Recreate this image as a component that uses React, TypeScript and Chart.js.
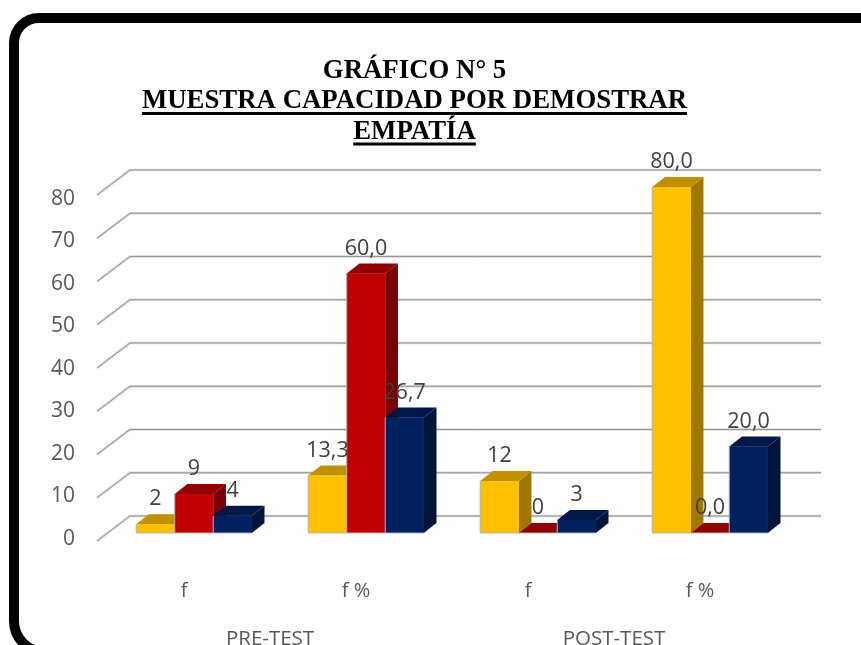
import React, { useEffect, useRef } from "react";
import { Chart, registerables } from "chart.js";

Chart.register(...registerables);

const categories = ["f", "f %", "f", "f %"];
const phases = ["PRE-TEST", "POST-TEST"];
const yTickValues = [0, 10, 20, 30, 40, 50, 60, 70, 80];
const titleLines = ["GRÁFICO N° 5", "MUESTRA CAPACIDAD POR DEMOSTRAR", "EMPATÍA"];
const serieYellow = [2, 13.3, 12, 80];
const serieRed = [9, 60, 0, 0];
const serieBlue = [4, 26.7, 3, 20];

const faces = [
  { front: "#FFC000", top: "#BF9000", side: "#A07800" },
  { front: "#C00000", top: "#900000", side: "#780000" },
  { front: "#002060", top: "#001848", side: "#00143C" },
];

const DEPTH_X = 12.7;
const DEPTH_Y = 10;
const TEXT_FONT = '"Open Sans", sans-serif';

const poly = (ctx: any, pts: number[][], fill: string) => {
  ctx.beginPath();
  pts.forEach((p, i) => (i ? ctx.lineTo(p[0], p[1]) : ctx.moveTo(p[0], p[1])));
  ctx.closePath();
  ctx.fillStyle = fill;
  ctx.fill();
};

const wallPlugin = {
  id: "wall",
  beforeDatasetsDraw(chart: any) {
    const { ctx, chartArea, scales } = chart;
    const frontX = chartArea.left - 11;
    const backX = chartArea.left + 22;
    const endX = chartArea.right + 25;
    ctx.save();
    yTickValues.forEach((v) => {
      const py = scales.y.getPixelForValue(v);
      const path = () => {
        ctx.beginPath();
        ctx.moveTo(frontX, py + 8);
        ctx.lineTo(backX, py - 17);
        ctx.lineTo(endX, py - 17);
        ctx.stroke();
      };
      ctx.lineWidth = 2.6;
      ctx.strokeStyle = "#d6d6d6";
      path();
      ctx.lineWidth = 1;
      ctx.strokeStyle = "#969696";
      path();
    });
    ctx.restore();
  },
};

const boxesPlugin = {
  id: "boxes",
  afterDatasetsDraw(chart: any) {
    const { ctx } = chart;
    ctx.save();
    categories.forEach((_, i) => {
      faces.forEach((f, d) => {
        const el = chart.getDatasetMeta(d).data[i];
        const { x, y, base, width } = el.getProps(["x", "y", "base", "width"], true);
        const l = x - width / 2;
        const r = x + width / 2;
        poly(ctx, [[r, y], [r + DEPTH_X, y - DEPTH_Y], [r + DEPTH_X, base - DEPTH_Y], [r, base]], f.side);
        poly(ctx, [[l, y], [l + DEPTH_X, y - DEPTH_Y], [r + DEPTH_X, y - DEPTH_Y], [r, y]], f.top);
        if (base - y > 0) poly(ctx, [[l, y], [r, y], [r, base], [l, base]], f.front);
        ctx.strokeStyle = "#b4b4b4";
        ctx.lineWidth = 1;
        ctx.beginPath();
        ctx.moveTo(l, y);
        ctx.lineTo(l, base);
        ctx.lineTo(r, base);
        ctx.stroke();
      });
    });
    ctx.font = `21.5px ${TEXT_FONT}`;
    ctx.fillStyle = "#404040";
    ctx.textAlign = "center";
    ctx.textBaseline = "middle";
    categories.forEach((_, i) => {
      faces.forEach((__, d) => {
        const el = chart.getDatasetMeta(d).data[i];
        const { x, y } = el.getProps(["x", "y"], true);
        const v = chart.data.datasets[d].data[i];
        const txt = i % 2 ? v.toFixed(1).replace(".", ",") : String(v);
        ctx.fillText(txt, x, y - 25);
      });
    });
    ctx.restore();
  },
};

const underlinePlugin = {
  id: "underline",
  afterDraw(chart: any) {
    const { ctx, titleBlock } = chart;
    const opts = titleBlock.options;
    const lh = 30.5;
    const cx = (titleBlock.left + titleBlock.right) / 2;
    const top = titleBlock.top + opts.padding.top;
    ctx.save();
    ctx.font = `bold ${opts.font.size}px "Liberation Serif", serif`;
    ctx.fillStyle = "#000";
    titleLines.forEach((t, i) => {
      if (i === 0) return;
      const w = ctx.measureText(t).width;
      ctx.fillRect(cx - w / 2, top + lh * i + 26, w, 3);
    });
    ctx.restore();
  },
};

export default function App() {
  const ref = useRef<HTMLCanvasElement>(null);
  useEffect(() => {
    const chart = new Chart(ref.current as HTMLCanvasElement, {
      type: "bar",
      data: {
        labels: categories,
        datasets: [
          { data: serieYellow, backgroundColor: faces[0].front },
          { data: serieRed, backgroundColor: faces[1].front },
          { data: serieBlue, backgroundColor: faces[2].front },
        ],
      },
      options: {
        animation: false,
        responsive: false,
        layout: { padding: { top: 55.5, left: 33, right: 65, bottom: 0 } },
        datasets: { bar: { categoryPercentage: 0.672, barPercentage: 1 } },
        plugins: {
          legend: { display: false },
          tooltip: { enabled: false },
          title: {
            display: true,
            text: titleLines,
            color: "#000",
            font: { family: '"Liberation Serif", serif', size: 26.8, weight: "bold", lineHeight: 30.5 / 26.8 },
            padding: { top: 0, bottom: 40 },
          },
        },
        scales: {
          y: { display: false, min: 0, max: 80 },
          yTicks: {
            position: "left",
            min: -0.9,
            max: 80.5,
            afterBuildTicks: (s: any) => {
              s.ticks = yTickValues.map((value) => ({ value }));
            },
            afterFit: (s: any) => {
              s.width = 75;
            },
            grid: { display: false, drawTicks: false },
            border: { display: false },
            ticks: {
              color: "#595959",
              font: { family: TEXT_FONT, size: 21 },
              padding: 33,
              labelOffset: 9.5,
              autoSkip: false,
            },
          },
          x: {
            weight: 0,
            afterFit: (s: any) => {
              s.height = 85;
            },
            grid: { display: false, drawTicks: false },
            border: { display: false },
            ticks: {
              color: "#595959",
              font: { family: TEXT_FONT, size: 20 },
              padding: 46,
              labelOffset: -10,
              maxRotation: 0,
            },
          },
          x2: {
            type: "category",
            position: "bottom",
            weight: 1,
            labels: phases,
            offset: true,
            afterFit: (s: any) => {
              s.height = 27;
            },
            grid: { display: false, drawTicks: false },
            border: { display: false },
            ticks: {
              color: "#595959",
              font: { family: TEXT_FONT, size: 20.5 },
              padding: 9,
              labelOffset: -10,
              maxRotation: 0,
            },
          },
        },
      } as any,
      plugins: [wallPlugin, boxesPlugin, underlinePlugin],
    });
    return () => chart.destroy();
  }, []);

  return (
    <div style={{ position: "fixed", inset: 0, overflow: "hidden", background: "#fff" }}>
      <div
        style={{
          position: "absolute",
          left: 9,
          top: 13,
          width: 920,
          height: 644,
          boxSizing: "border-box",
          border: "10px solid #000",
          borderRadius: "30px 30px 36px 36px",
        }}
      />
      <canvas ref={ref} width={861} height={645} style={{ position: "absolute", left: 0, top: 0 }} />
    </div>
  );
}
